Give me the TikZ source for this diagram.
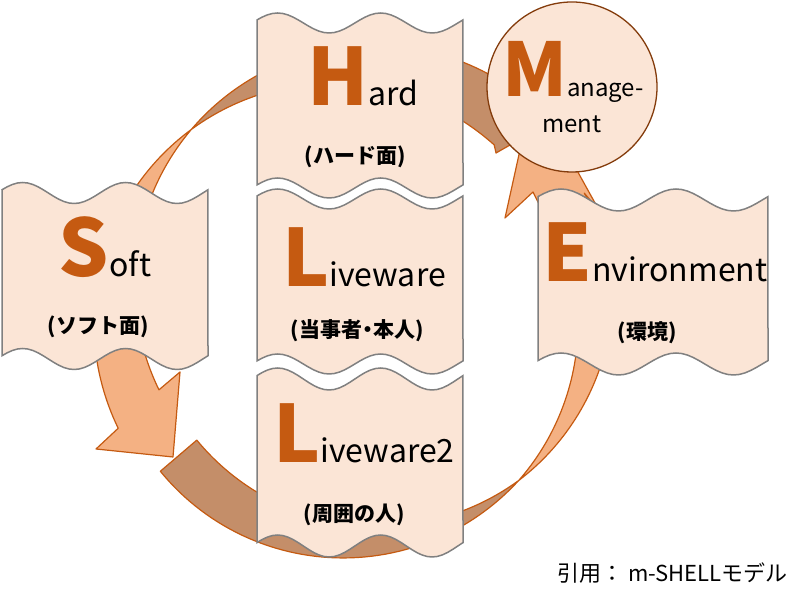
\documentclass[tikz,border=0pt]{standalone}
\usepackage{fontspec}
\setmainfont{Noto Sans CJK JP}
\definecolor{bandlight}{HTML}{F4B183}
\definecolor{banddark}{HTML}{C48E69}
\definecolor{bandline}{HTML}{C55A11}
\definecolor{tapefill}{HTML}{FBE5D6}
\definecolor{tapeline}{HTML}{808080}
\definecolor{ringline}{HTML}{843C0C}
\definecolor{initial}{HTML}{C55A11}
\newcommand{\capletter}[2][79]{{\fontsize{#1}{#1}\selectfont\bfseries\color{initial}#2}}
% wavy box: x0, x1, top, bottom, amplitude
\newcommand{\wavebox}[5]{%
  \draw[tape] plot[domain=0:1,samples=41] ({#1+(#2-#1)*\x},{#3+#5*cos(720*(\x-0.1))})
    -- plot[domain=1:0,samples=41] ({#1+(#2-#1)*\x},{#4+#5*cos(720*(\x-0.1))}) -- cycle;}
\begin{document}
\begin{tikzpicture}[x=1pt,y=1pt,
    declare function={ra(\x)=240+28*sin(\x-133); rb(\x)=240-28*sin(\x-133);
      rc(\x)=min(240,232+0.086*(\x-220))-0.3*max(0,\x-360); wc(\x)=24*sin(\x-313);},
    band/.style={draw=bandline,line width=1.2pt,line join=round},
    front/.style={band,fill=bandlight},
    back/.style={band,fill=banddark},
    tape/.style={draw=tapeline,fill=tapefill,line width=1.5pt},
    word/.style={inner sep=0pt,anchor=base,font=\fontsize{32}{32}\selectfont},
    sub/.style={inner sep=0pt,font=\fontsize{21}{21}\selectfont\bfseries}]
    \useasboundingbox (0,0) rectangle (808,601);
    %ribbons
    \begin{scope}[shift={(355,296)}]
        \coordinate (headAout) at (210,235);
        \coordinate (headAtip) at (185,177);
        \coordinate (headAin) at (141,152);
        \coordinate (headBout) at (-259,-144);
        \coordinate (headBtip) at (-182,-152);
        \coordinate (headBin) at (-175,-67);
        \coordinate (headCout) at (245,93);
        \coordinate (headCtip) at (178,214);
        \coordinate (headCin) at (150,87);
        \coordinate (notchCin) at (178,113);
        \draw[back] plot[domain=133:52,samples=60] (\x:{rb(\x)}) -- (headAout) -- (headAtip) -- (headAin)
            -- plot[domain=49:133,samples=60] (\x:{ra(\x)}) -- cycle;
        \draw[front] plot[domain=133:207.5,samples=60] (\x:{ra(\x)}) -- (headBout) -- (headBtip) -- (headBin)
            -- plot[domain=203.4:133,samples=60] (\x:{rb(\x)}) -- cycle;
        \draw[back] plot[domain=220.5:313,samples=60] (\x:{rc(\x)+wc(\x)})
            -- plot[domain=313:220.5,samples=60] (\x:{rc(\x)-wc(\x)}) -- cycle;
        \draw[front] plot[domain=313:386,samples=60] (\x:{rc(\x)+wc(\x)}) -- (headCout) -- (headCtip) -- (headCin)
            -- (notchCin) -- plot[domain=385:313,samples=60] (\x:{rc(\x)-wc(\x)}) -- cycle;
    \end{scope}
    %boxes
    \wavebox{2}{208}{408}{242}{10.5}
    \wavebox{257}{463}{578}{413}{10}
    \wavebox{257}{463}{402}{237}{10}
    \wavebox{257}{463}{222}{55}{11}
    \wavebox{538}{768}{401}{237}{11}
    \node[circle,draw=ringline,fill=tapefill,line width=1.3pt,minimum size=170pt,inner sep=0pt] (ring) at (572,514) {};
    %labels
    \node[word] (soft) at (105,324) {\capletter{S}oft};
    \node[sub] (softsub) at (98,274) {(ソフト面)};
    \node[word] (hard) at (363,495) {\capletter{H}ard};
    \node[sub] (hardsub) at (355,444) {(ハード面)};
    \node[word] (live) at (364,314) {\capletter{L}iveware};
    \node[sub] (livesub) at (357,270) {(当事者{\kern-5pt}・{\kern-5pt}本人)};
    \node[word] (livetwo) at (364,138) {\capletter{L}iveware2};
    \node[sub] (livetwosub) at (354,86) {(周囲の人)};
    \node[word] (env) at (655,319) {\capletter{E}nvironment};
    \node[sub] (envsub) at (647,268) {(環境)};
    \node[word,font=\fontsize{24}{24}\selectfont] (mng) at (573,504) {\capletter[74]{M}anage-};
    \node[word,font=\fontsize{24}{24}\selectfont] (ment) at (572,468) {ment};
    \node[anchor=base east,inner sep=0pt,font=\fontsize{22}{22}\selectfont] (cite) at (788,19) {引用： m-SHELLモデル};
\end{tikzpicture}
\end{document}
